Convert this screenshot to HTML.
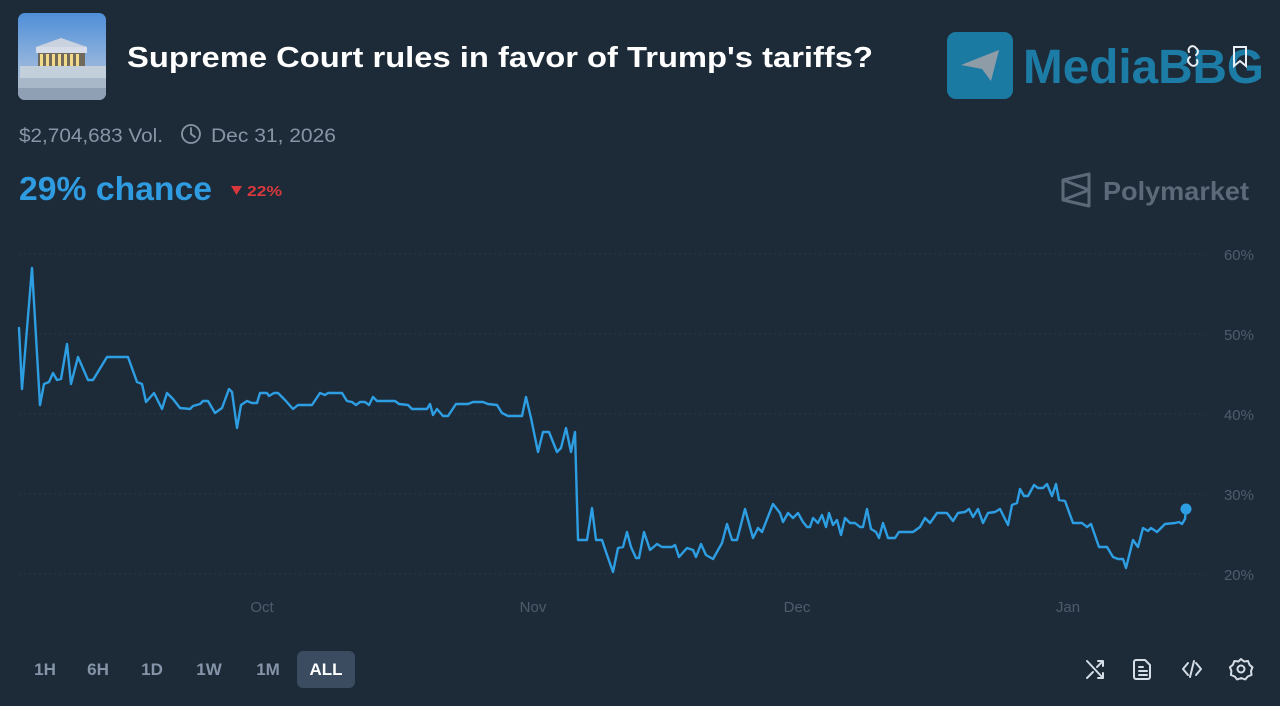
<!DOCTYPE html>
<html><head><meta charset="utf-8"><style>
html,body{margin:0;padding:0;background:#1d2b39;}
svg{display:block;}
text{font-family:"Liberation Sans",Arial,sans-serif;}
</style></head><body>
<svg width="1280" height="706" viewBox="0 0 1280 706" xmlns="http://www.w3.org/2000/svg">
<rect width="1280" height="706" fill="#1d2b39"/>
<!-- icon image -->
<defs>
<linearGradient id="sky" x1="0" y1="0" x2="0" y2="1">
<stop offset="0" stop-color="#4f8fd8"/><stop offset="0.55" stop-color="#8fb2dc"/><stop offset="1" stop-color="#b9c6d6"/>
</linearGradient>
<clipPath id="ic"><rect x="18" y="13" width="88" height="87" rx="7"/></clipPath>
</defs>
<g clip-path="url(#ic)">
<rect x="18" y="13" width="88" height="87" fill="url(#sky)"/>
<polygon points="36,47 61,38 87,47" fill="#c9d2de"/>
<rect x="36" y="47" width="51" height="6" fill="#d6dde8"/>
<rect x="38" y="53" width="47" height="22" fill="#6f6a5c"/>
<g fill="#f3d98a"><rect x="40" y="54" width="3" height="20"/><rect x="46" y="54" width="3" height="20"/><rect x="52" y="54" width="3" height="20"/><rect x="58" y="54" width="3" height="20"/><rect x="64" y="54" width="3" height="20"/><rect x="70" y="54" width="3" height="20"/><rect x="76" y="54" width="3" height="20"/></g>
<rect x="20" y="66" width="86" height="12" fill="#c4cfdc"/>
<rect x="18" y="78" width="88" height="22" fill="#a9b8c9"/>
<rect x="18" y="88" width="88" height="12" fill="#8fa0b4"/>
</g>
<!-- title -->
<text x="127" y="67" font-size="29" font-weight="bold" fill="#ffffff" textLength="746" lengthAdjust="spacingAndGlyphs">Supreme Court rules in favor of Trump's tariffs?</text>
<!-- watermark -->
<rect x="947" y="32" width="66" height="67" rx="9" fill="#1b7aa2"/>
<polygon points="961,65 999,50 991,81 982,69" fill="#8e9ca8"/>
<text x="1023" y="83" font-size="48" font-weight="bold" fill="#1d7ca5" textLength="241" lengthAdjust="spacingAndGlyphs">MediaBBG</text>
<g fill="none" stroke="#e8eef4" stroke-width="2" stroke-linecap="round">
<path d="M1189,52 a4,4 0 0 1 6,-5 l2,2 a4,4 0 0 1 -1,6"/>
<path d="M1197,60 a4,4 0 0 1 -6,5 l-2,-2 a4,4 0 0 1 1,-6"/>
<path d="M1234,47 h12 v19 l-6,-5 l-6,5 z"/>
</g>
<!-- meta -->
<text x="19" y="142" font-size="19" fill="#8795a6" textLength="144" lengthAdjust="spacingAndGlyphs">$2,704,683 Vol.</text>
<circle cx="191" cy="134" r="9" fill="none" stroke="#8795a6" stroke-width="1.8"/>
<path d="M191,128 v6 l4,3" fill="none" stroke="#8795a6" stroke-width="1.8" stroke-linecap="round"/>
<text x="211" y="142" font-size="19" fill="#8795a6" textLength="125" lengthAdjust="spacingAndGlyphs">Dec 31, 2026</text>
<!-- chance -->
<text x="19" y="200" font-size="33" font-weight="bold" fill="#2f9be0" textLength="193" lengthAdjust="spacingAndGlyphs">29% chance</text>
<polygon points="231,186 242,186 236.5,195" fill="#d8383c"/>
<text x="247" y="196" font-size="15" font-weight="bold" fill="#d8383c" textLength="35" lengthAdjust="spacingAndGlyphs">22%</text>
<!-- polymarket logo -->
<g fill="none" stroke="#5b6979" stroke-width="3" stroke-linejoin="round">
<path d="M1063,180 L1089,174 L1089,206 L1063,200 Z"/>
<path d="M1063,180 L1089,190 L1063,200"/>
</g>
<text x="1103" y="200" font-size="26" font-weight="bold" fill="#5b6979" textLength="146" lengthAdjust="spacingAndGlyphs">Polymarket</text>
<!-- grid -->
<g stroke="#273748" stroke-width="1" stroke-dasharray="2,3">
<line x1="19" y1="254" x2="1205" y2="254"/>
<line x1="19" y1="334" x2="1205" y2="334"/>
<line x1="19" y1="414" x2="1205" y2="414"/>
<line x1="19" y1="494" x2="1205" y2="494"/>
<line x1="19" y1="574" x2="1205" y2="574"/>
</g>
<g font-size="15" fill="#4d5c6d" text-anchor="end">
<text x="1254" y="260">60%</text>
<text x="1254" y="340">50%</text>
<text x="1254" y="420">40%</text>
<text x="1254" y="500">30%</text>
<text x="1254" y="580">20%</text>
</g>
<g font-size="15" fill="#4d5c6d" text-anchor="middle">
<text x="262" y="612">Oct</text>
<text x="533" y="612">Nov</text>
<text x="797" y="612">Dec</text>
<text x="1068" y="612">Jan</text>
</g>
<!-- line -->
<polyline fill="none" stroke="#2e9ee3" stroke-width="2.4" stroke-linejoin="round" stroke-linecap="round" points="
19,328 22,389 32,268 40,405 44,384 49,382 53,373 57,380 61,379 67,344 71,384 78,357 88,380 93,380 107,357 128,357 137,382 142,384 146,402 154,393 162,409 167,393 173,399 180,408 190,409 193,406 200,404 203,401 208,401 215,413 222,408 229,389 232,392 237,428 241,405 247,401 252,403 257,403 260,393 267,393 269,396 274,393 278,393 285,400 293,409 298,405 312,405 320,393 325,395
328,393 342,393 347,401 352,402 356,405 360,402 365,402 369,405 373,397 377,401 395,401 399,404 408,405 412,409 427,409 430,404 433,415 437,409 443,416 448,416 456,404 468,404 473,402 483,402 488,404 497,405 502,413 508,416 522,416 526,397 531,418 538,452 543,432 549,432 557,452 561,448 566,428 571,452 575,432 578,540 587,540 592,508 596,540 602,540 606,552 613,572 618,548
623,547 627,532 631,547 636,558 639,558 644,532 650,550 657,544 662,547 672,547 675,545 679,557 687,548 693,550 696,557 701,544 706,555 713,559 722,543 727,524 732,540 737,540 745,509 753,538 758,528 762,532 773,504 780,513 783,522 788,513 793,518 798,513 803,522 807,527 810,527 813,518 818,523 822,515 826,527 829,513 833,525 837,520 841,535 845,518 850,523 855,523 860,527 863,527 867,509 871,529 876,532 879,538 883,523 888,538 895,538 899,532 913,532 920,527
925,518 930,523 937,513 947,513 953,521 958,513 965,512 969,509 973,517 978,509 983,523 988,513 995,512 1000,509 1008,525 1012,505 1017,503 1020,489 1024,496 1028,496 1034,485 1038,488 1043,488 1047,484 1052,496 1056,484 1059,500 1065,501 1073,523 1082,523 1087,527 1091,524 1099,547 1107,547 1113,557 1118,559 1123,559 1126,568 1133,540 1138,547 1143,528 1148,531 1151,528 1157,532 1165,524 1175,523 1179,522 1182,524 1185,519 1186,509"/>
<circle cx="1186" cy="509" r="5.5" fill="#2e9ee3"/>
<!-- time buttons -->
<rect x="297" y="651" width="58" height="37" rx="6" fill="#3b4c60"/>
<g font-size="17" font-weight="bold" fill="#8594a8" text-anchor="middle">
<text x="45" y="675">1H</text>
<text x="98" y="675">6H</text>
<text x="152" y="675">1D</text>
<text x="209" y="675">1W</text>
<text x="268" y="675">1M</text>
<text x="326" y="675" fill="#ffffff">ALL</text>
</g>
<!-- bottom icons -->
<g fill="none" stroke="#d5dde6" stroke-width="2" stroke-linecap="round" stroke-linejoin="round">
<path d="M1087,661 L1103,678 M1098,678 h5 v-5"/>
<path d="M1087,678 L1093,672 M1097,667 L1103,661 M1098,661 h5 v5"/>
<path d="M1136,660 h9 l5,5 v12 a2,2 0 0 1 -2,2 h-12 a2,2 0 0 1 -2,-2 v-15 a2,2 0 0 1 2,-2 z"/>
<path d="M1139,667 h4 M1139,671 h8 M1139,675 h8"/>
<path d="M1188,663 l-5,6 l5,6 M1196,663 l5,6 l-5,6 M1194,661 l-4,16"/>
<circle cx="1241" cy="669" r="3.5"/>
<path d="M1241,659 l3,2.5 l4,-0.5 l1.5,3.8 l3,2.5 l-1.5,3.7 l0.5,4 l-3.8,1.5 l-2.5,3 l-4,-1.5 l-4,1.5 l-2.5,-3 l-3.8,-1.5 l0.5,-4 l-1.5,-3.7 l3,-2.5 l1.5,-3.8 l4,0.5 z"/>
</g>
</svg>
</body></html>
